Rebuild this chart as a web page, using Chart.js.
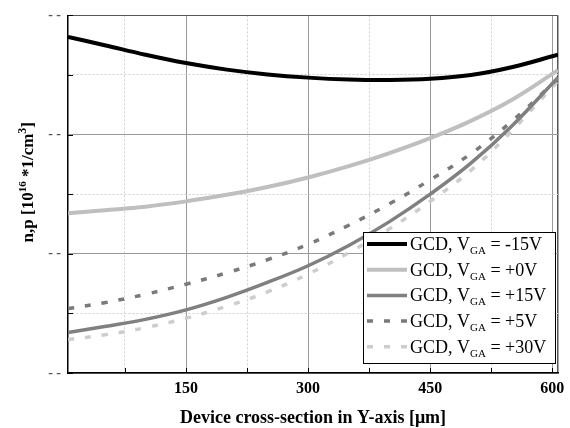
<!DOCTYPE html>
<html>
<head>
<meta charset="utf-8">
<script src="https://cdn.jsdelivr.net/npm/chart.js@4.4.0/dist/chart.umd.min.js"></script>
<style>
  html, body { margin: 0; padding: 0; background: #fff; }
  #wrap { width: 570px; height: 428px; }
</style>
</head>
<body>
<div id="wrap"><canvas id="carrierChart"></canvas></div>
<script>
// position along Y cut [um] and carrier density [1e16 / cm^3]
const positions = [5, 50, 100, 150, 200, 250, 300, 350, 400, 450, 500, 550, 607];
const gateVoltages = ['-15V', '+0V', '+15V', '+5V', '+30V'];
const densityM15 = [2.82, 2.75, 2.67, 2.60, 2.545, 2.505, 2.478, 2.462, 2.458, 2.468, 2.50, 2.565, 2.67];
const densityP0 = [1.34, 1.365, 1.395, 1.44, 1.495, 1.56, 1.64, 1.735, 1.845, 1.97, 2.115, 2.29, 2.54];
const densityP15 = [0.34, 0.39, 0.45, 0.53, 0.635, 0.76, 0.90, 1.07, 1.27, 1.50, 1.76, 2.07, 2.48];
const densityP5 = [0.54, 0.59, 0.66, 0.745, 0.84, 0.95, 1.08, 1.24, 1.42, 1.62, 1.84, 2.11, 2.47];
const densityP30 = [0.28, 0.32, 0.38, 0.46, 0.56, 0.68, 0.83, 1.01, 1.21, 1.44, 1.70, 2.03, 2.45];
const xGridValues = [75, 150, 225, 300, 375, 450, 525, 600, 607];
const xTickLabels = [150, 300, 450, 600];
const yTickLabels = [0, 1, 2, 3];

const SERIF = "'Liberation Serif', 'Times New Roman', serif";

function toPoints(values) {
    return positions.map((x, i) => ({ x: x, y: values[i] }));
}

function makeSeries(voltage, values, color, width, dash) {
    return {
        label: 'GCD, V_GA = ' + voltage,
        voltage: voltage,
        data: toPoints(values),
        borderColor: color,
        borderWidth: width,
        borderDash: dash,
        borderCapStyle: 'butt',
        pointRadius: 0,
        fill: false,
        tension: 0.4,
    };
}

// small inward tick marks on the left and bottom axes
const innerTicks = {
    id: 'innerTicks',
    beforeDatasetsDraw(chart) {
        const { ctx, chartArea, scales } = chart;
        ctx.save();
        ctx.strokeStyle = '#000';
        ctx.lineWidth = 1;
        scales.x.ticks.forEach(t => {
            if (t.value % 75 !== 0) return;
            const px = Math.round(scales.x.getPixelForValue(t.value)) + 0.5;
            ctx.beginPath();
            ctx.moveTo(px, chartArea.bottom);
            ctx.lineTo(px, chartArea.bottom - 5);
            ctx.stroke();
        });
        scales.y.ticks.forEach(t => {
            const py = Math.round(scales.y.getPixelForValue(t.value)) + 0.5;
            ctx.beginPath();
            ctx.moveTo(chartArea.left, py);
            ctx.lineTo(chartArea.left + 5, py);
            ctx.stroke();
        });
        ctx.restore();
    },
};

// legend with subscripted gate label, boxed in the lower right
const subLegend = {
    id: 'subLegend',
    afterDatasetsDraw(chart) {
        const { ctx, chartArea } = chart;
        const w = 192, h = 131;
        const right = chartArea.right - 3;
        const bottom = chartArea.bottom - 10;
        const left = right - w, top = bottom - h;
        ctx.save();
        ctx.fillStyle = '#fff';
        ctx.fillRect(left, top, w, h);
        ctx.strokeStyle = '#000';
        ctx.lineWidth = 1;
        ctx.strokeRect(left + 0.5, top + 0.5, w, h);

        chart.data.datasets.forEach((ds, i) => {
            const cy = top + 12 + i * 25.7;
            ctx.beginPath();
            ctx.strokeStyle = ds.borderColor;
            ctx.lineWidth = ds.borderWidth;
            ctx.setLineDash(ds.borderDash || []);
            ctx.moveTo(left + 4, cy);
            ctx.lineTo(left + 44, cy);
            ctx.stroke();
            ctx.setLineDash([]);

            let tx = left + 47;
            const base = cy + 6;
            ctx.fillStyle = '#000';
            ctx.textBaseline = 'alphabetic';
            ctx.textAlign = 'left';
            ctx.font = '18px ' + SERIF;
            ctx.fillText('GCD, V', tx, base);
            tx += ctx.measureText('GCD, V').width;
            ctx.font = '11px ' + SERIF;
            ctx.fillText('GA', tx, base + 4);
            tx += ctx.measureText('GA').width;
            ctx.font = '18px ' + SERIF;
            ctx.fillText(' = ' + ds.voltage, tx, base);
        });
        ctx.restore();
    },
};

// rotated y-axis title with superscripts
const yTitle = {
    id: 'yTitle',
    afterDraw(chart) {
        const { ctx, chartArea } = chart;
        const parts = [
            { t: 'n,p [10', size: 17, rise: 0 },
            { t: '16', size: 11, rise: 7 },
            { t: ' *1/cm', size: 17, rise: 0 },
            { t: '3', size: 12, rise: 7 },
            { t: ']', size: 17, rise: 0 },
        ];
        ctx.save();
        ctx.translate(chartArea.left - 35, (chartArea.top + chartArea.bottom) / 2 - 12);
        ctx.rotate(-Math.PI / 2);
        ctx.fillStyle = '#000';
        ctx.textBaseline = 'alphabetic';
        ctx.textAlign = 'left';
        let total = 0;
        parts.forEach(p => {
            ctx.font = 'bold ' + p.size + 'px ' + SERIF;
            p.w = ctx.measureText(p.t).width;
            total += p.w;
        });
        let x = -total / 2;
        parts.forEach(p => {
            ctx.font = 'bold ' + p.size + 'px ' + SERIF;
            ctx.fillText(p.t, x, -p.rise);
            x += p.w;
        });
        ctx.restore();
    },
};

const ctx = document.getElementById('carrierChart').getContext('2d');
const carrierChart = new Chart(ctx, {
    type: 'line',
    data: {
        datasets: [
            makeSeries(gateVoltages[0], densityM15, '#000000', 4, []),
            makeSeries(gateVoltages[1], densityP0, '#bfbfbf', 4, []),
            makeSeries(gateVoltages[2], densityP15, '#808080', 3.5, []),
            makeSeries(gateVoltages[3], densityP5, '#7a7a7a', 3.5, [6, 11]),
            makeSeries(gateVoltages[4], densityP30, '#cdcdcd', 3.5, [6, 11]),
        ],
    },
    options: {
        responsive: true,
        maintainAspectRatio: false,
        animation: false,
        layout: { padding: { top: 13, right: 12, left: 0, bottom: 0 } },
        plugins: {
            legend: { display: false },
            tooltip: { enabled: false },
        },
        scales: {
            x: {
                type: 'linear',
                min: 5,
                max: 607,
                afterBuildTicks: s => {
                    s.ticks = xGridValues.map(v => ({ value: v }));
                },
                afterFit: s => { s.height = 55; },
                ticks: {
                    autoSkip: false,
                    maxRotation: 0,
                    padding: 6,
                    color: '#000',
                    font: { family: SERIF, size: 16, weight: 'bold' },
                    callback: v => xTickLabels.includes(v) ? String(v) : '',
                },
                grid: {
                    drawTicks: false,
                    lineWidth: c => c.tick && c.tick.value === 607 ? 1.5 : 1,
                    color: c => {
                        const v = c.tick ? c.tick.value : 0;
                        if (v === 607) return '#555';
                        return v % 150 === 0 ? '#9a9a9a' : '#cfcfcf';
                    },
                },
                border: {
                    color: '#000',
                    width: 1.5,
                    dash: c => c.tick && c.tick.value % 150 !== 0 && c.tick.value !== 607 ? [2, 2] : [],
                },
                title: {
                    display: true,
                    text: 'Device cross-section in Y-axis [μm]',
                    color: '#000',
                    font: { family: SERIF, size: 18, weight: 'bold' },
                    padding: { top: 0, bottom: -1 },
                },
            },
            y: {
                min: 0,
                max: 3,
                afterFit: s => { s.width = 68; },
                ticks: {
                    stepSize: 0.5,
                    padding: 7,
                    color: '#555',
                    font: { family: SERIF, size: 14, weight: 'bold' },
                    callback: v => yTickLabels.includes(v) ? '- -' : '',
                },
                grid: {
                    drawTicks: false,
                    color: c => {
                        const v = c.tick ? c.tick.value : 0;
                        if (v === 3) return '#555';
                        return Number.isInteger(v) ? '#9a9a9a' : '#cfcfcf';
                    },
                },
                border: {
                    color: '#000',
                    width: 1.5,
                    dash: c => c.tick && !Number.isInteger(c.tick.value) ? [2, 2] : [],
                },
            },
        },
    },
    plugins: [innerTicks, subLegend, yTitle],
});
</script>
</body>
</html>
